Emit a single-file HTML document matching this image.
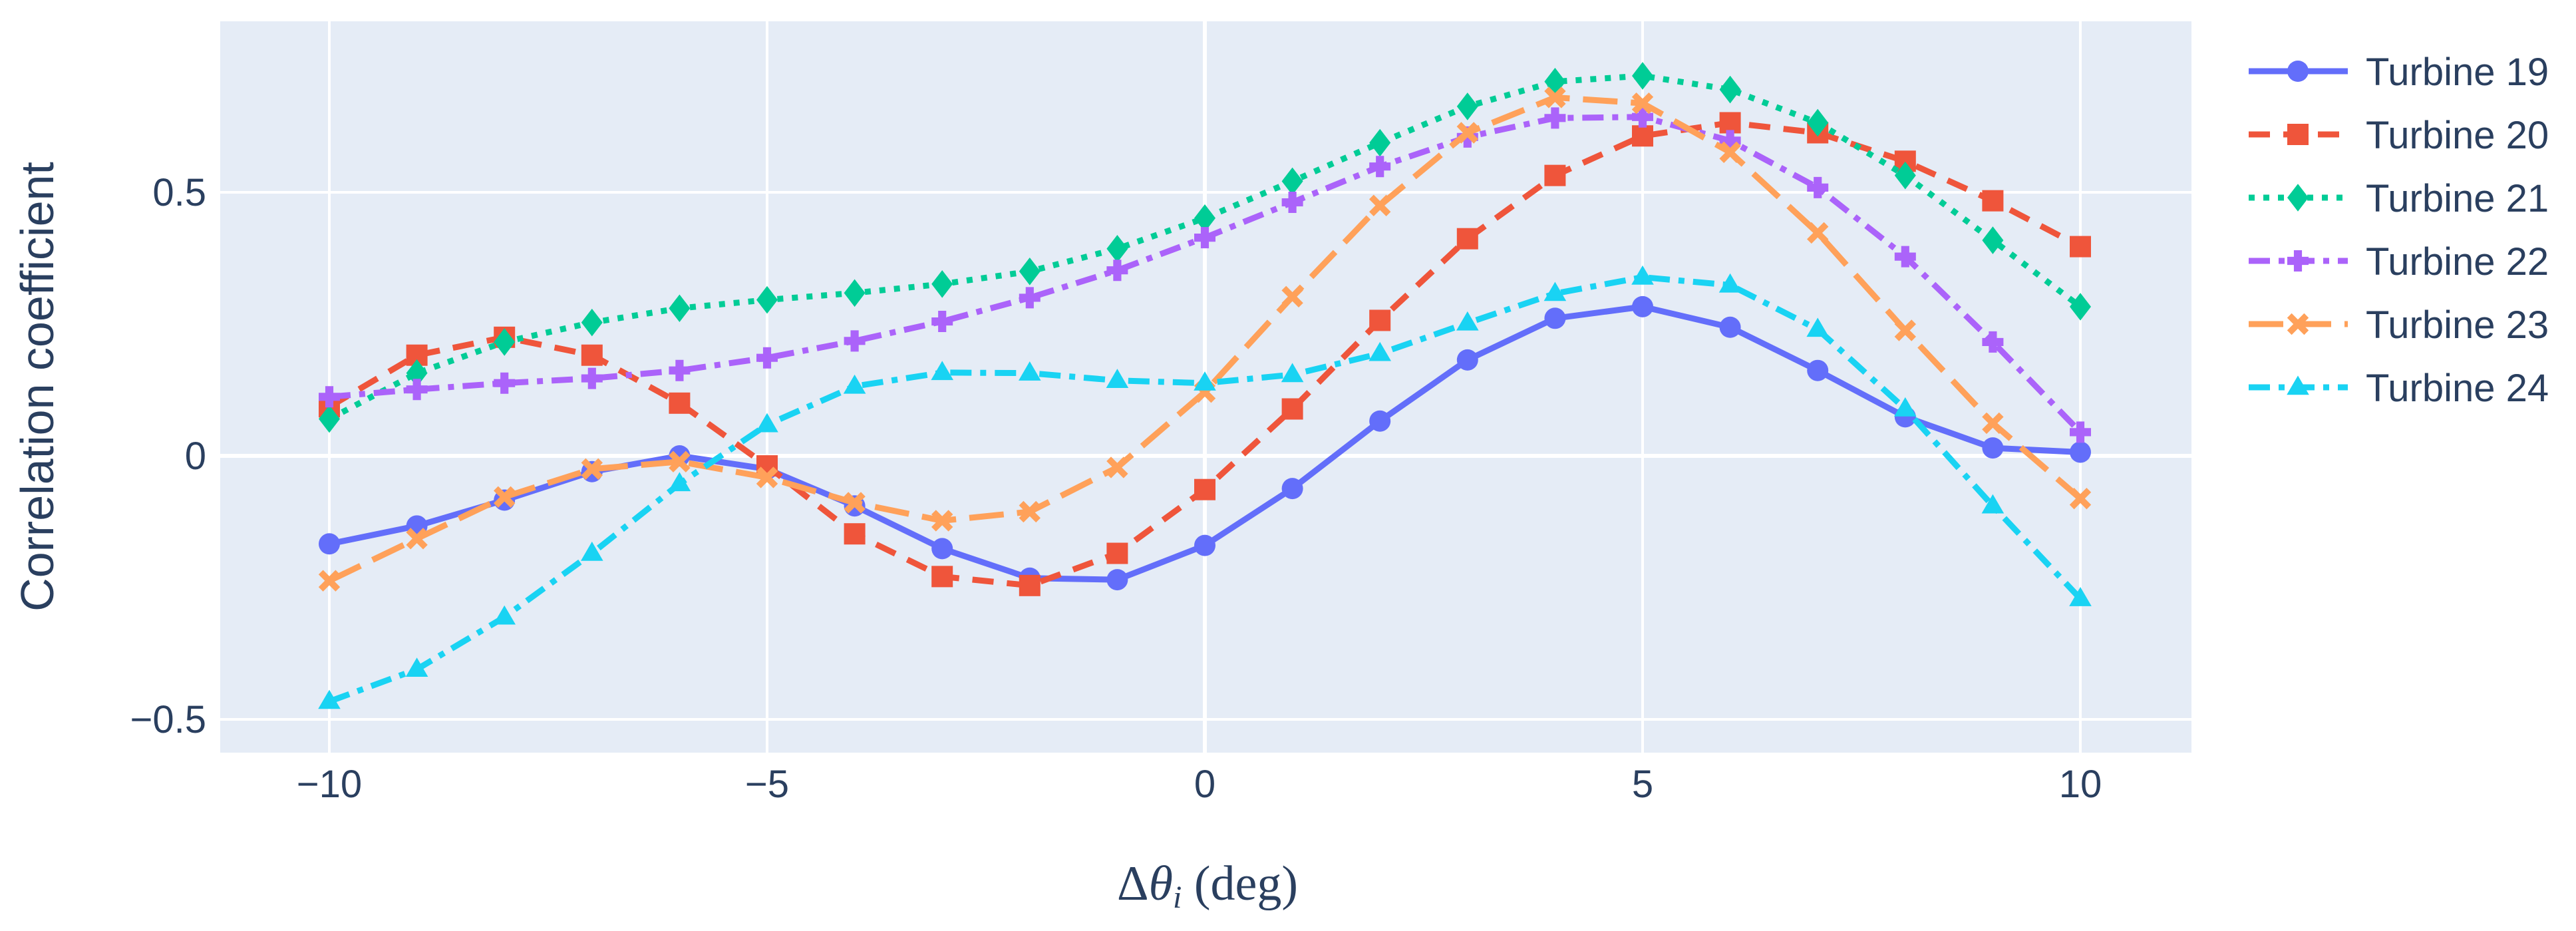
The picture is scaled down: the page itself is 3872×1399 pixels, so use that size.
<!DOCTYPE html>
<html><head><meta charset="utf-8"><style>
html,body{margin:0;padding:0;background:#fff;}
svg{display:block;}
</style></head><body>
<svg id="chart" width="3872" height="1399" xmlns="http://www.w3.org/2000/svg" font-family="Liberation Sans, sans-serif">
<rect x="331" y="32" width="2963" height="1099" fill="#E5ECF6"/>
<g id="grid"></g>
<g id="series"></g>
<g id="ticks" fill="#2a3f5f" font-size="58"></g>
<text transform="translate(80,581) rotate(-90)" text-anchor="middle" font-size="70" fill="#2a3f5f">Correlation coefficient</text>
<text x="1815" y="1352" text-anchor="middle" font-family="Liberation Serif, serif" font-size="74" fill="#2a3f5f">Δ<tspan font-style="italic">θ</tspan><tspan font-style="italic" font-size="48" dy="12">i</tspan><tspan dy="-12"> (deg)</tspan></text>
<g id="legend"></g>
</svg>
<script>
const xs = [-10,-9,-8,-7,-6,-5,-4,-3,-2,-1,0,1,2,3,4,5,6,7,8,9,10];
const names = ["Turbine 19","Turbine 20","Turbine 21","Turbine 22","Turbine 23","Turbine 24"];
const t19 = [-0.167,-0.133,-0.084,-0.03,0,-0.025,-0.095,-0.176,-0.232,-0.235,-0.17,-0.062,0.066,0.182,0.261,0.283,0.244,0.162,0.074,0.015,0.007];
const t20 = [0.093,0.191,0.225,0.191,0.1,-0.019,-0.148,-0.229,-0.246,-0.185,-0.064,0.089,0.257,0.412,0.532,0.607,0.632,0.613,0.559,0.484,0.397];
const t21 = [0.07,0.157,0.216,0.253,0.28,0.296,0.309,0.326,0.35,0.393,0.451,0.521,0.594,0.663,0.71,0.721,0.695,0.632,0.532,0.409,0.283];
const t22 = [0.112,0.126,0.138,0.147,0.162,0.186,0.218,0.255,0.3,0.352,0.414,0.481,0.549,0.605,0.641,0.643,0.598,0.509,0.378,0.216,0.045];
const t23 = [-0.237,-0.157,-0.078,-0.025,-0.011,-0.041,-0.089,-0.123,-0.106,-0.022,0.121,0.302,0.475,0.613,0.68,0.669,0.576,0.423,0.238,0.062,-0.081];
const t24 = [-0.466,-0.405,-0.306,-0.185,-0.053,0.059,0.132,0.158,0.157,0.143,0.138,0.154,0.194,0.252,0.308,0.339,0.324,0.24,0.089,-0.095,-0.271];
const xTicks = [-10,-5,0,5,10];
const xTickLabels = ["\u221210","\u22125","0","5","10"];
const yTicks = [-0.5,0,0.5];
const yTickLabels = ["\u22120.5","0","0.5"];

const NS="http://www.w3.org/2000/svg";
function X(v){return 1811 + v*131.6;}
function Y(v){return 685 - v*792;}
function mk(tag,attrs,parent){const e=document.createElementNS(NS,tag);for(const k in attrs)e.setAttribute(k,attrs[k]);parent.appendChild(e);return e;}
const grid=document.getElementById('grid'), ticks=document.getElementById('ticks');
xTicks.forEach((t,i)=>{
  const l=mk('line',{x1:X(t),x2:X(t),y1:32,y2:1131,stroke:'#fff','stroke-width':t===0?6:4},grid);
  
  
  const tx=mk('text',{x:X(t),y:1198,'text-anchor':'middle'},ticks);tx.textContent=xTickLabels[i];
  
  
});
yTicks.forEach((t,i)=>{
  const l=mk('line',{x1:331,x2:3294,y1:Y(t),y2:Y(t),stroke:'#fff','stroke-width':t===0?6:4},grid);
  
  
  const tx=mk('text',{x:310,y:Y(t)+20,'text-anchor':'end'},ticks);tx.textContent=yTickLabels[i];
  
  
});
const colors=['#636efa','#EF553B','#00cc96','#ab63fa','#FFA15A','#19d3f3'];
const dashes=['none','32,20','9,13','32,13,9,13','52,20','32,13,9,13'];
const symbols=['circle','square','diamond','cross','x','triangle'];
const data=[t19,t20,t21,t22,t23,t24];
function marker(sym,x,y,c,parent,s){
  s=s||16;
  let e;
  if(sym==='circle') e=mk('circle',{cx:x,cy:y,r:s,fill:c},parent);
  else if(sym==='square') e=mk('rect',{x:x-s,y:y-s,width:2*s,height:2*s,fill:c},parent);
  else if(sym==='diamond') e=mk('path',{d:`M${x},${y-s*1.3}L${x+s},${y}L${x},${y+s*1.3}L${x-s},${y}Z`,fill:c},parent);
  else if(sym==='cross'){const a=s*0.38;e=mk('path',{d:`M${x-a},${y-s}h${2*a}v${s-a}h${s-a}v${2*a}h${-(s-a)}v${s-a}h${-2*a}v${-(s-a)}h${-(s-a)}v${-2*a}h${s-a}Z`,fill:c},parent);}
  else if(sym==='x'){e=mk('path',{d:`M${x-s*0.8},${y-s*0.8}L${x+s*0.8},${y+s*0.8}M${x+s*0.8},${y-s*0.8}L${x-s*0.8},${y+s*0.8}`,stroke:c,'stroke-width':s*0.6,fill:'none'},parent);}
  else e=mk('path',{d:`M${x},${y-s*1.1}L${x+s*1.05},${y+s*0.7}L${x-s*1.05},${y+s*0.7}Z`,fill:c},parent);
  return e;
}
const sg=document.getElementById('series');
data.forEach((arr,si)=>{
  const g=mk('g',{},sg);
  
  
  const pts=arr.map((v,i)=>X(xs[i])+','+Y(v)).join(' ');
  const pl=mk('polyline',{points:pts,fill:'none',stroke:colors[si],'stroke-width':9,'stroke-dasharray':dashes[si],'stroke-linejoin':'round'},g);
  
  
  arr.forEach((v,i)=>{
    const m=marker(symbols[si],X(xs[i]),Y(v),colors[si],g);
    
    
  });
});
const lg=document.getElementById('legend');
names.forEach((n,i)=>{
  const y=107+i*95;
  const g=mk('g',{},lg);
  
  
  mk('line',{x1:3380,x2:3529,y1:y,y2:y,stroke:colors[i],'stroke-width':9,'stroke-dasharray':dashes[i]},g);
  marker(symbols[i],3454,y,colors[i],g);
  const t=mk('text',{x:3556,y:y+21,'font-size':58,fill:'#2a3f5f'},g);t.textContent=n;
});
</script>
</body></html>
